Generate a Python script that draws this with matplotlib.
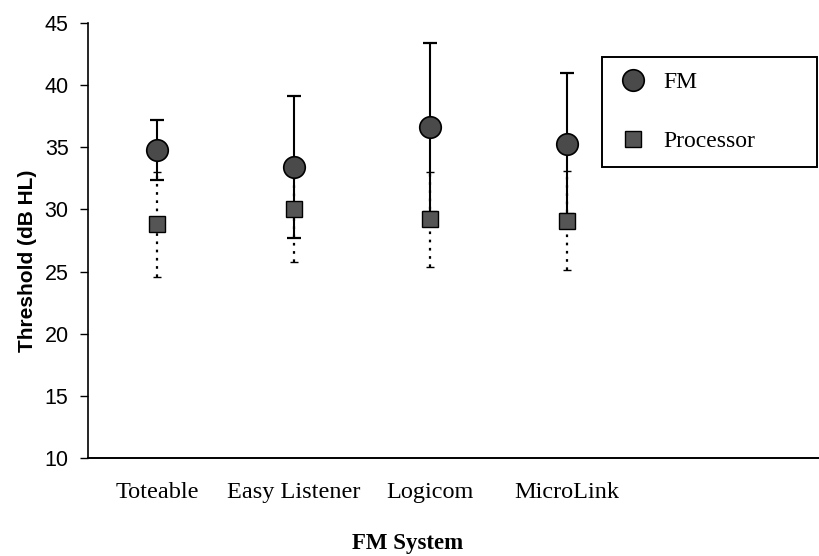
import matplotlib
matplotlib.use("Agg")
import matplotlib.pyplot as plt
import numpy as np

categories = ["Toteable", "Easy Listener", "Logicom", "MicroLink"]
fm_mean = [34.8, 33.4, 36.6, 35.3]
fm_sd = [2.4, 5.7, 6.8, 5.7]
proc_mean = [28.8, 30.0, 29.2, 29.1]
proc_sd = [4.2, 4.2, 3.8, 4.0]
yticks = [10, 15, 20, 25, 30, 35, 40, 45]

fig = plt.figure(figsize=(8.2, 5.56), dpi=100)
ax = fig.add_axes([0.1073, 0.1763, 0.8927, 0.7823])

x = np.arange(len(categories))

eb_p = ax.errorbar(x, proc_mean, yerr=proc_sd, fmt="none", ecolor="black",
                   elinewidth=1.6, capsize=3, capthick=1.0, zorder=2)
for c in eb_p[2]:
    c.set_linestyle((0, (1.2, 2.5)))
eb_f = ax.errorbar(x, fm_mean, yerr=fm_sd, fmt="none", ecolor="black",
                   elinewidth=1.5, capsize=4.8, capthick=1.6, zorder=3)

h_fm, = ax.plot(x, fm_mean, linestyle="none", marker="o", markersize=15.5,
                markerfacecolor="#4a4a4a", markeredgecolor="black",
                markeredgewidth=1.2, zorder=6, label="FM")
h_pr, = ax.plot(x, proc_mean, linestyle="none", marker="s", markersize=11.5,
                markerfacecolor="#555555", markeredgecolor="black",
                markeredgewidth=1.0, zorder=5, label="Processor")

ax.set_xlim(-0.505, 4.85)
ax.set_ylim(10, 45)
ax.set_yticks(yticks)
ax.set_xticks(x)
ax.set_xticklabels(categories, fontfamily="Liberation Serif", fontsize=17.5)
ax.tick_params(axis="x", length=0, pad=17)
ax.tick_params(axis="y", direction="out", length=6, width=1.0, pad=8,
               labelsize=15.5)
for lab in ax.get_yticklabels():
    lab.set_fontfamily("Liberation Sans")

ax.spines["top"].set_visible(False)
ax.spines["right"].set_visible(False)
ax.spines["left"].set_linewidth(1.2)
ax.spines["bottom"].set_linewidth(1.4)

ax.set_ylabel("Threshold (dB HL)", fontfamily="Liberation Sans",
              fontweight="bold", fontsize=15)
ax.yaxis.set_label_coords(-0.07, 0.453)
ax.set_xlabel("FM System", fontfamily="Liberation Serif", fontweight="bold",
              fontsize=16.5)
ax.xaxis.set_label_coords(0.436, -0.172)

leg = ax.legend(handles=[h_fm, h_pr], loc="upper left",
                bbox_to_anchor=(0.702, 0.922, 0.294, 0.0), mode="expand",
                frameon=True, fancybox=False, shadow=False,
                prop={"family": "Liberation Serif", "size": 17},
                labelspacing=1.6, borderpad=0.62, handlelength=1.4,
                handletextpad=0.6, borderaxespad=0.0)
leg.get_frame().set_edgecolor("black")
leg.get_frame().set_linewidth(1.4)
leg.get_frame().set_alpha(1.0)

fig.savefig("out.png", dpi=100)
